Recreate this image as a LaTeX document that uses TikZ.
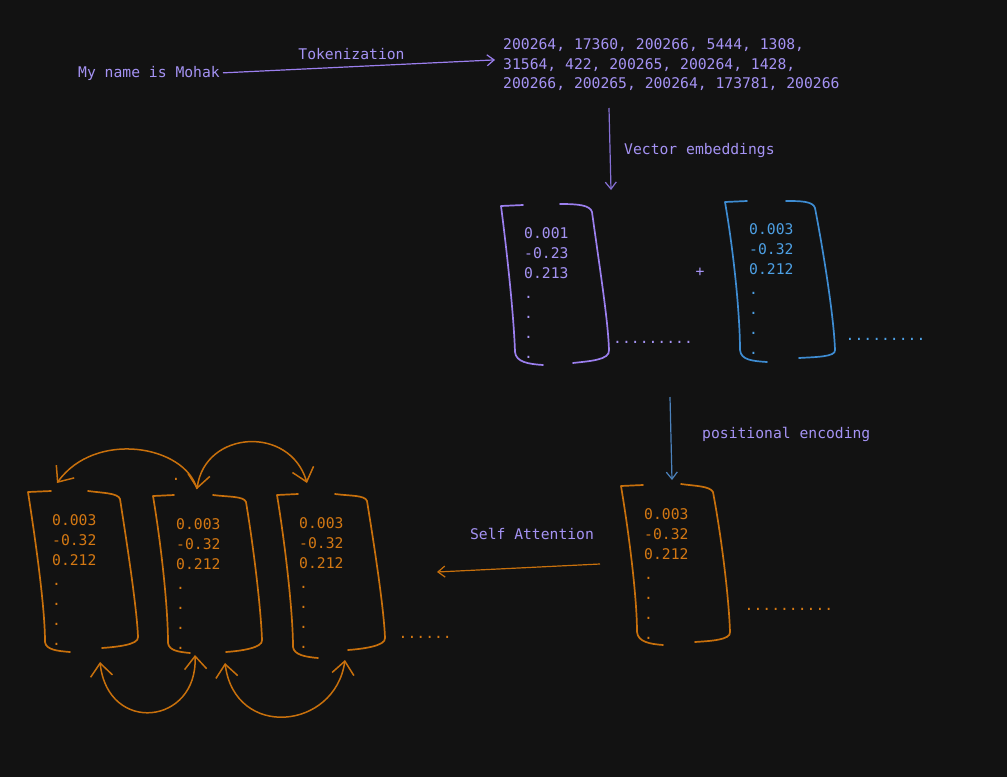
\documentclass[tikz,border=0pt]{standalone}
\usepackage{fontspec}
\setmonofont{DejaVu Sans Mono}
\usepackage{xcolor}
\usepackage{tikz}
\usetikzlibrary{
    arrows.meta,
    positioning,
    calc
}
\definecolor{bgdark}{HTML}{121212}
\definecolor{lavender}{HTML}{A593F4}
\definecolor{lavline}{HTML}{9B7FEE}
\definecolor{lavarrow}{HTML}{8670D6}
\definecolor{skyblue}{HTML}{4DA0E4}
\definecolor{skyline}{HTML}{3E8CD2}
\definecolor{steelarrow}{HTML}{4C82BC}
\definecolor{amber}{HTML}{D47812}
\definecolor{amberline}{HTML}{C8700C}
\tikzset{
    tag/.style={
        inner sep=0pt,
        text=lavender
    }
}
\tikzset{
    vecstack/.style={
        inner sep=0pt,
        align=left,
        anchor=north west
    }
}
\tikzset{
    vecframe/.style={
        line width=1.7pt,
        line cap=round,
        line join=round
    }
}
\tikzset{
    flow/.style={
        line width=1.2pt,
        -{Straight Barb[length=7pt,width=11pt]}
    }
}
\tikzset{
    attendone/.style={
        draw=amberline,
        line width=1.5pt,
        -{Straight Barb[length=13pt,width=22pt]}
    }
}
\tikzset{
    attendtwo/.style={
        draw=amberline,
        line width=1.5pt,
        {Straight Barb[length=13pt,width=22pt]}-{Straight Barb[length=13pt,width=22pt]}
    }
}
\tikzset{
    trail/.style={
        inner sep=0pt,
        anchor=base west
    }
}

\begin{document}
\begin{tikzpicture}[
    x=1pt, y=-1pt,
    font=\ttfamily\fontsize{14.7}{20}\selectfont
]

% ------------------------------------------------------------
% Canvas
% ------------------------------------------------------------

\fill[bgdark] (0,0) rectangle (1007,777);
\useasboundingbox (0,0) rectangle (1007,777);

% ------------------------------------------------------------
% Tokenization
% ------------------------------------------------------------

\node[tag, anchor=west] (sentence) at (78,73) {My name is Mohak};
\node[vecstack, text=lavender, font=\ttfamily\fontsize{14.7}{19.5}\selectfont] (tokens) at (503,38.7)
    {200264, 17360, 200266, 5444, 1308,\\31564, 422, 200265, 200264, 1428,\\200266, 200265, 200264, 173781, 200266};
\draw[flow, draw=lavline, shorten <=3pt] (sentence.east) -- node[tag, above=6pt, xshift=-6pt] (tokcap) {Tokenization}
    ([xshift=-8pt, yshift=5pt]tokens.west);

% ------------------------------------------------------------
% Vector embeddings
% ------------------------------------------------------------

\coordinate (embfrom) at (609,108);
\coordinate (embto) at (611,190);
\draw[flow, draw=lavarrow] (embfrom) -- (embto);
\node[tag, anchor=west] (embcap) at (624,150) {Vector embeddings};

\draw[vecframe, draw=lavline] (523,205) -- (501,206) .. controls (508,260) and (514,320) .. (515,352)
    .. controls (516,362) and (528,364) .. (543,365);
\draw[vecframe, draw=lavline] (560,204) .. controls (578,204) and (590,205) .. (592,212)
    .. controls (600,270) and (608,320) .. (609,350) .. controls (610,360) and (590,361) .. (573,363);
\node[vecstack, text=lavender] (embvec) at (524,227.7) {0.001\\-0.23\\0.213\\.\\.\\.\\.};
\node[trail, text=lavender] (embmore) at (613,343) {.........};

\node[tag] (plus) at (700,272) {+};

\draw[vecframe, draw=skyline] (747,201) -- (725,202) .. controls (735,260) and (740,320) .. (740,350)
    .. controls (741,360) and (752,361) .. (767,362);
\draw[vecframe, draw=skyline] (786,201) .. controls (800,201) and (813,201) .. (815,208)
    .. controls (825,260) and (834,320) .. (835,350) .. controls (836,357) and (815,357) .. (799,358);
\node[vecstack, text=skyblue] (posvec) at (749,223.7) {0.003\\-0.32\\0.212\\.\\.\\.\\.};
\node[trail, text=skyblue] (posmore) at (845.5,340) {.........};

% ------------------------------------------------------------
% Positional encoding
% ------------------------------------------------------------

\coordinate (posfrom) at (670,397);
\coordinate (posto) at (672,480);
\draw[flow, draw=steelarrow] (posfrom) -- (posto);
\node[tag, anchor=west] (poscap) at (702,434) {positional encoding};

\draw[vecframe, draw=amberline] (643,485) -- (621,486) .. controls (630,540) and (637,600) .. (637,632)
    .. controls (638,642) and (650,644) .. (663,645);
\draw[vecframe, draw=amberline] (681,484) .. controls (695,486) and (710,486) .. (713,492)
    .. controls (722,540) and (729,600) .. (730,632) .. controls (731,640) and (710,641) .. (695,642);
\node[vecstack, text=amber] (encvec) at (644,508.7) {0.003\\-0.32\\0.212\\.\\.\\.\\.};
\node[trail, text=amber] (encmore) at (744.5,610) {..........};

% ------------------------------------------------------------
% Self attention
% ------------------------------------------------------------

\coordinate (attfrom) at (600,564);
\coordinate (attto) at (437,572);
\draw[flow, draw=amberline] (attfrom) -- (attto);
\node[tag] (attcap) at (532,534) {Self Attention};

\draw[vecframe, draw=amberline] (51,491) -- (28,492) .. controls (37,550) and (45,610) .. (45,642)
    .. controls (46,650) and (58,651) .. (70,652);
\draw[vecframe, draw=amberline] (88,491) .. controls (103,493) and (118,493) .. (120,499)
    .. controls (128,550) and (137,610) .. (138,637) .. controls (139,645) and (115,647) .. (102,648);
\node[vecstack, text=amber] (attvec1) at (52,514.7) {0.003\\-0.32\\0.212\\.\\.\\.\\.};

\draw[vecframe, draw=amberline] (174,495) -- (153,496) .. controls (162,550) and (168,610) .. (168,643)
    .. controls (169,651) and (180,652) .. (190,653);
\draw[vecframe, draw=amberline] (213,495) .. controls (228,497) and (244,496) .. (246,502)
    .. controls (254,550) and (261,610) .. (262,640) .. controls (263,648) and (240,651) .. (226,652);
\node[vecstack, text=amber] (attvec2) at (176,518.7) {0.003\\-0.32\\0.212\\.\\.\\.\\.};

\draw[vecframe, draw=amberline] (298,494) -- (277,495) .. controls (286,550) and (293,615) .. (293,647)
    .. controls (294,655) and (306,657) .. (318,658);
\draw[vecframe, draw=amberline] (335,494) .. controls (350,496) and (365,495) .. (367,501)
    .. controls (375,550) and (384,610) .. (385,638) .. controls (386,646) and (362,649) .. (348,650);
\node[vecstack, text=amber] (attvec3) at (299,517.7) {0.003\\-0.32\\0.212\\.\\.\\.\\.};
\node[trail, text=amber] (attmore) at (398.5,638) {......};
\node[trail, text=amber] (stray) at (171.5,480) {.};

% attention links between the columns
\coordinate (topmid) at (197,489);
\coordinate (topleft) at (57,483);
\coordinate (topright) at (307,483);
\coordinate (botmidl) at (195,655);
\coordinate (botmidr) at (225,663);
\coordinate (botleft) at (100,662);
\coordinate (botright) at (345,660);
\draw[attendone] (topmid) .. controls (185,445) and (95,430) .. (topleft);
\draw[attendtwo] (topmid) .. controls (205,430) and (290,425) .. (topright);
\draw[attendtwo] (botmidl) .. controls (198,725) and (108,735) .. (botleft);
\draw[attendtwo] (botmidr) .. controls (235,740) and (335,730) .. (botright);

\end{tikzpicture}
\end{document}
